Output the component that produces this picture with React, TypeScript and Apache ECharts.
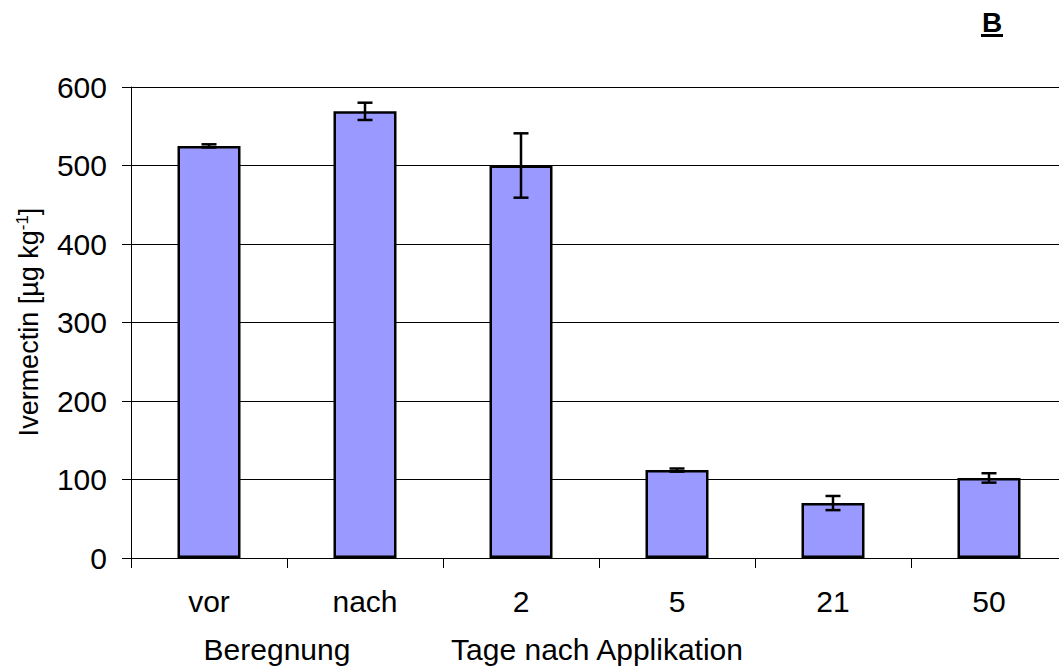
import React, { useEffect, useRef } from "react";
import * as echarts from "echarts";

const categories = ["vor", "nach", "2", "5", "21", "50"];
const means = [525, 569, 500, 112, 70, 102];
const errors = [2, 11, 41, 2, 9, 6];
const yTicks = { min: 0, max: 600, interval: 100 };

const FONT = "'Liberation Sans', Arial, sans-serif";

export default function App() {
  const ref = useRef<HTMLDivElement>(null);
  useEffect(() => {
    if (!ref.current) return;
    const chart = echarts.init(ref.current, null, { renderer: "svg" });
    const errData = means.map((m, i) => [i, m - errors[i], m + errors[i]]);
    chart.setOption({
      animation: false,
      backgroundColor: "#ffffff",
      textStyle: { fontFamily: FONT },
      grid: { left: 131, top: 87, width: 936, height: 471, containLabel: false },
      xAxis: {
        type: "category",
        data: categories,
        boundaryGap: true,
        axisLine: { lineStyle: { color: "#000", width: 1 } },
        axisTick: { show: true, length: 10, lineStyle: { color: "#000" } },
        axisLabel: { color: "#000", fontSize: 30, fontFamily: FONT, margin: 28 },
        splitLine: { show: false },
      },
      yAxis: {
        type: "value",
        min: yTicks.min,
        max: yTicks.max,
        interval: yTicks.interval,
        axisLine: { show: true, lineStyle: { color: "#000", width: 1 } },
        axisTick: { show: true, length: 9, lineStyle: { color: "#000" } },
        axisLabel: { color: "#000", fontSize: 30, fontFamily: FONT, margin: 24 },
        splitLine: { show: true, lineStyle: { color: "#000", width: 1 } },
      },
      series: [
        {
          type: "bar",
          data: means,
          barWidth: 63,
          itemStyle: { color: "#9999ff", borderColor: "#000", borderWidth: 2.5 },
          z: 2,
        },
        {
          type: "custom",
          data: errData,
          encode: { x: 0, y: [1, 2] },
          z: 3,
          renderItem: (params: any, api: any) => {
            const idx = api.value(0);
            const lo = api.coord([idx, api.value(1)]);
            const hi = api.coord([idx, api.value(2)]);
            const hw = 7.5;
            const style = { stroke: "#000", lineWidth: 2.5 };
            return {
              type: "group",
              children: [
                { type: "line", shape: { x1: hi[0], y1: hi[1], x2: lo[0], y2: lo[1] }, style },
                { type: "line", shape: { x1: hi[0] - hw, y1: hi[1], x2: hi[0] + hw, y2: hi[1] }, style },
                { type: "line", shape: { x1: lo[0] - hw, y1: lo[1], x2: lo[0] + hw, y2: lo[1] }, style },
              ],
            };
          },
        },
      ],
      graphic: [
        {
          type: "text",
          x: 29,
          y: 322,
          rotation: Math.PI / 2,
          style: {
            text: "{n|Ivermectin [µg kg}{s|-1}{n|]}",
            align: "center",
            verticalAlign: "middle",
            fill: "#000",
            rich: {
              n: { fontSize: 27, fontFamily: FONT, fill: "#000" },
              s: { fontSize: 17, fontFamily: FONT, fill: "#000", padding: [0, 0, 14, 0] },
            },
          },
        },
        {
          type: "text",
          x: 277,
          y: 649,
          style: { text: "Beregnung", fontSize: 30, fontFamily: FONT, fill: "#000", align: "center", verticalAlign: "middle" },
        },
        {
          type: "text",
          x: 597,
          y: 649,
          style: { text: "Tage nach Applikation", fontSize: 30, fontFamily: FONT, fill: "#000", align: "center", verticalAlign: "middle" },
        },
        {
          type: "text",
          x: 992,
          y: 22,
          style: { text: "B", fontSize: 28, fontWeight: "bold", fontFamily: FONT, fill: "#000", align: "center", verticalAlign: "middle" },
        },
        {
          type: "rect",
          shape: { x: 981, y: 34, width: 22, height: 3 },
          style: { fill: "#000" },
        },
      ],
    });
    return () => chart.dispose();
  }, []);
  return (
    <div style={{ position: "absolute", left: 0, top: 0, width: 1059, height: 669, overflow: "hidden" }}>
      <div ref={ref} style={{ width: 1100, height: 669 }} />
    </div>
  );
}
